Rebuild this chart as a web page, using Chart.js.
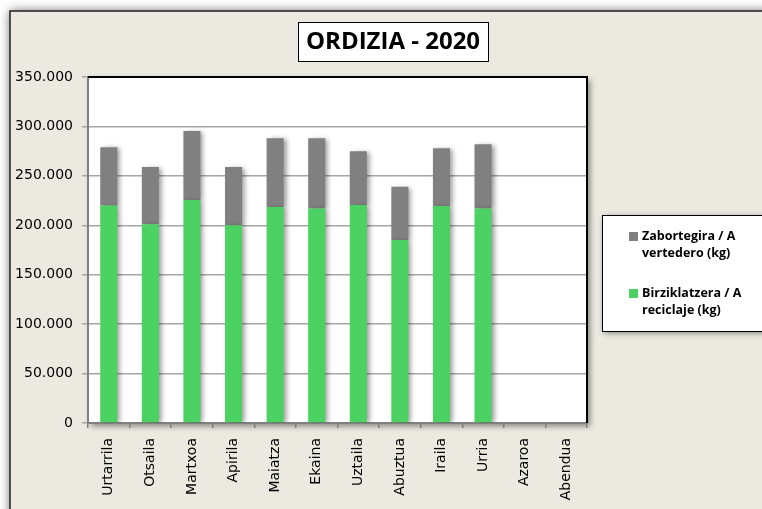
<!DOCTYPE html>
<html>
<head>
<meta charset="utf-8">
<script src="https://cdn.jsdelivr.net/npm/chart.js@4/dist/chart.umd.min.js"></script>
<style>
  html, body { margin: 0; padding: 0; background: #fff; }
  #wrap { position: relative; width: 762px; height: 509px; }
</style>
</head>
<body>
<div id="wrap"><canvas id="chart"></canvas></div>
<script>
// Monthly values (kg)
const months = ['Urtarrila', 'Otsaila', 'Martxoa', 'Apirila', 'Maiatza', 'Ekaina',
    'Uztaila', 'Abuztua', 'Iraila', 'Urria', 'Azaroa', 'Abendua'];
const recycled = [220000, 201000, 225500, 200000, 218500, 217000, 220500, 185000, 219500, 217000, null, null];
const landfill = [59000, 58000, 70000, 59000, 69500, 71000, 54500, 54000, 58500, 65000, null, null];
const yMax = 350000;
const yStep = 50000;
const titleText = 'ORDIZIA - 2020';
const landfillLabel = ['Zabortegira / A', 'vertedero (kg)'];
const recycledLabel = ['Birziklatzera / A', 'reciclaje (kg)'];

const GREEN = '#4cd262';
const GREY = '#808080';
const BG = '#ece9e0';

function formatThousands(v) {
    return String(v).replace(/\B(?=(\d{3})+(?!\d))/g, '.');
}

// Frame, plot box, title box, legend box and bar shadows
const decorPlugin = {
    id: 'decor',
    beforeDraw(chart) {
        const ctx = chart.ctx;
        const a = chart.chartArea;
        ctx.save();
        ctx.fillStyle = '#fff';
        ctx.fillRect(0, 0, chart.width, chart.height);

        // outer frame
        ctx.shadowColor = 'rgba(0,0,0,0.6)';
        ctx.shadowBlur = 10;
        ctx.shadowOffsetX = 0;
        ctx.shadowOffsetY = 0;
        ctx.fillStyle = BG;
        ctx.fillRect(10, 11, chart.width, chart.height);
        ctx.shadowColor = 'transparent';
        ctx.strokeStyle = '#222';
        ctx.lineWidth = 1.5;
        ctx.strokeRect(10, 11, chart.width + 10, chart.height + 10);

        // plot area
        ctx.shadowColor = 'rgba(0,0,0,0.45)';
        ctx.shadowBlur = 6;
        ctx.shadowOffsetX = 3;
        ctx.shadowOffsetY = 3;
        ctx.fillStyle = '#fff';
        ctx.fillRect(a.left, a.top, a.right - a.left, a.bottom - a.top);
        ctx.shadowColor = 'transparent';

        // title box
        ctx.font = 'bold 24px "Open Sans", Lato, sans-serif';
        const tw = ctx.measureText(titleText).width;
        const cx = 393;
        const bw = Math.max(190, tw + 12);
        ctx.fillStyle = '#fff';
        ctx.fillRect(cx - bw / 2, 22, bw, 39);
        ctx.strokeStyle = '#000';
        ctx.lineWidth = 1;
        ctx.strokeRect(cx - bw / 2 + 0.5, 22.5, bw, 39);
        ctx.fillStyle = '#000';
        ctx.textAlign = 'center';
        ctx.textBaseline = 'middle';
        ctx.fillText(titleText, cx, 42);

        // legend box
        ctx.shadowColor = 'rgba(0,0,0,0.45)';
        ctx.shadowBlur = 6;
        ctx.shadowOffsetX = 2;
        ctx.shadowOffsetY = 2;
        ctx.fillStyle = '#fff';
        ctx.fillRect(602, 215, 180, 116);
        ctx.shadowColor = 'transparent';
        ctx.strokeStyle = '#000';
        ctx.lineWidth = 1;
        ctx.strokeRect(602.5, 215.5, 180, 116);

        const items = [
            { color: chart.data.datasets[1].backgroundColor, lines: chart.data.datasets[1].label, y: 232 },
            { color: chart.data.datasets[0].backgroundColor, lines: chart.data.datasets[0].label, y: 289 }
        ];
        ctx.font = 'bold 12.5px "Open Sans", Lato, sans-serif';
        ctx.textAlign = 'left';
        ctx.textBaseline = 'alphabetic';
        items.forEach(it => {
            ctx.fillStyle = it.color;
            ctx.fillRect(629, it.y, 9, 9);
            ctx.fillStyle = '#000';
            it.lines.forEach((ln, i) => ctx.fillText(ln, 642, it.y + 8 + i * 17));
        });
        ctx.restore();
    },
    beforeDatasetsDraw(chart) {
        const ctx = chart.ctx;
        ctx.save();
        ctx.shadowColor = 'rgba(0,0,0,0.4)';
        ctx.shadowBlur = 5;
        ctx.shadowOffsetX = 3;
        ctx.shadowOffsetY = 1;
    },
    afterDatasetsDraw(chart) {
        const ctx = chart.ctx;
        ctx.restore();
        const a = chart.chartArea;
        ctx.save();
        ctx.strokeStyle = '#000';
        ctx.lineWidth = 2;
        ctx.beginPath();
        ctx.moveTo(a.left, a.top);
        ctx.lineTo(a.right, a.top);
        ctx.lineTo(a.right, a.bottom);
        ctx.stroke();
        ctx.restore();
    }
};

new Chart(document.getElementById('chart'), {
    type: 'bar',
    data: {
        labels: months,
        datasets: [
            { label: recycledLabel, data: recycled, backgroundColor: GREEN },
            { label: landfillLabel, data: landfill, backgroundColor: GREY }
        ]
    },
    options: {
        responsive: true,
        maintainAspectRatio: false,
        animation: false,
        categoryPercentage: 1,
        barPercentage: 0.41,
        layout: { padding: { left: 10, right: 175, top: 77, bottom: 0 } },
        plugins: {
            legend: { display: false },
            title: { display: false },
            tooltip: { enabled: false }
        },
        scales: {
            x: {
                stacked: true,
                afterFit: s => { s.height = 86; },
                grid: {
                    offset: true,
                    drawOnChartArea: false,
                    tickLength: 5,
                    color: '#808080',
                    lineWidth: 1.5
                },
                border: { color: '#808080', width: 2 },
                ticks: {
                    autoSkip: false,
                    minRotation: 90,
                    maxRotation: 90,
                    padding: 10,
                    color: '#000',
                    font: { family: '"DejaVu Sans", Verdana, sans-serif', size: 14 }
                }
            },
            y: {
                stacked: true,
                min: 0,
                max: yMax,
                afterFit: s => { s.width = 78; },
                grid: {
                    color: '#a6a6a6',
                    lineWidth: 1.5,
                    tickLength: 6
                },
                border: { color: '#808080', width: 2 },
                ticks: {
                    stepSize: yStep,
                    padding: 9,
                    color: '#000',
                    font: { family: '"DejaVu Sans", Verdana, sans-serif', size: 14 },
                    callback: v => formatThousands(v)
                }
            }
        }
    },
    plugins: [decorPlugin]
});
</script>
</body>
</html>
